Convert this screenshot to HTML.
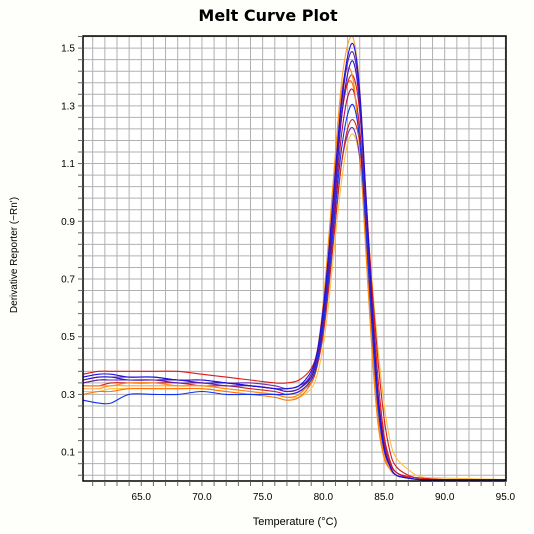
<!DOCTYPE html>
<html><head><meta charset="utf-8"><style>
body{margin:0;background:#fff;}
svg{display:block;font-family:"Liberation Sans",sans-serif;}
</style></head><body>
<svg id="chart" width="534" height="534" viewBox="0 0 534 534">
<rect x="0" y="0" width="534" height="534" fill="#fefefb"/>
<text x="268" y="21" text-anchor="middle" font-size="16" font-weight="bold" font-family="DejaVu Sans, Liberation Sans, sans-serif">Melt Curve Plot</text>
<rect x="83" y="36" width="423" height="445" fill="#fff"/>
<g id="grid"></g>
<g id="series"></g>
<rect x="83" y="36" width="423" height="445" fill="none" stroke="#000" stroke-width="1.5"/>
<g id="axes"></g>
<text x="295" y="525" text-anchor="middle" font-size="11">Temperature (°C)</text>
<text transform="translate(17,255) rotate(-90)" text-anchor="middle" font-size="10">Derivative Reporter (−Rn')</text>
</svg>
<script>
const temps=[60.2,61.5,62.5,64,66,68,70,72,74,76,77,78,79,79.5,80,80.5,81,81.5,82,82.5,83,83.5,84,84.5,85,85.5,86,87,88,90,95];
const xTicks=[65,70,75,80,85,90,95];
const yTicks=[0.1,0.3,0.5,0.7,0.9,1.1,1.3,1.5];
const colors=["#1a10e0","#2a18d0","#1030f0","#6020a0","#e01818","#d02020","#ff8a10","#ffa030","#ffc040","#b01050","#7030b0","#ff7000"];
const sA=[0.36,0.37,0.37,0.36,0.36,0.35,0.35,0.34,0.33,0.32,0.32,0.33,0.38,0.45,0.60,0.82,1.08,1.32,1.47,1.51,1.35,1.00,0.62,0.30,0.12,0.05,0.02,0.01,0.005,0.005,0.005];
const sB=[0.35,0.36,0.36,0.35,0.35,0.35,0.34,0.34,0.33,0.32,0.31,0.32,0.36,0.43,0.57,0.78,1.02,1.26,1.41,1.45,1.30,0.96,0.58,0.27,0.11,0.05,0.02,0.01,0.005,0.005,0.005];
const sC=[0.28,0.27,0.27,0.30,0.30,0.30,0.31,0.30,0.30,0.30,0.30,0.31,0.35,0.41,0.54,0.73,0.95,1.15,1.27,1.30,1.18,0.88,0.54,0.26,0.11,0.05,0.02,0.01,0.005,0.005,0.005];
const sD=[0.34,0.35,0.35,0.35,0.35,0.34,0.34,0.33,0.33,0.32,0.31,0.32,0.37,0.44,0.59,0.80,1.05,1.30,1.45,1.48,1.33,0.98,0.60,0.29,0.12,0.05,0.02,0.01,0.005,0.005,0.005];
const sE=[0.37,0.38,0.38,0.38,0.38,0.38,0.37,0.36,0.35,0.34,0.34,0.35,0.39,0.45,0.58,0.78,1.02,1.26,1.38,1.40,1.28,1.00,0.66,0.36,0.16,0.07,0.03,0.015,0.01,0.005,0.005];
const sF=[0.33,0.33,0.34,0.34,0.34,0.34,0.33,0.33,0.32,0.31,0.30,0.31,0.34,0.40,0.51,0.69,0.90,1.10,1.22,1.25,1.17,0.95,0.68,0.42,0.22,0.10,0.05,0.02,0.01,0.005,0.005];
const sG=[0.33,0.33,0.33,0.34,0.34,0.33,0.33,0.32,0.31,0.30,0.29,0.30,0.36,0.45,0.62,0.87,1.13,1.35,1.43,1.38,1.15,0.80,0.45,0.20,0.08,0.04,0.02,0.01,0.005,0.005,0.005];
const sH=[0.32,0.32,0.33,0.33,0.33,0.33,0.33,0.32,0.31,0.30,0.29,0.30,0.35,0.43,0.60,0.86,1.14,1.38,1.51,1.53,1.36,0.98,0.58,0.26,0.10,0.05,0.02,0.01,0.005,0.005,0.005];
const sI=[0.31,0.31,0.32,0.32,0.32,0.32,0.32,0.31,0.30,0.30,0.29,0.29,0.32,0.37,0.47,0.64,0.85,1.04,1.17,1.20,1.12,0.94,0.70,0.46,0.27,0.14,0.08,0.04,0.015,0.01,0.005];
const sJ=[0.34,0.35,0.35,0.35,0.35,0.35,0.34,0.34,0.33,0.32,0.31,0.32,0.36,0.42,0.55,0.75,0.98,1.20,1.33,1.35,1.22,0.93,0.60,0.31,0.14,0.06,0.03,0.01,0.005,0.005,0.005];
const sK=[0.35,0.36,0.36,0.36,0.36,0.35,0.35,0.34,0.34,0.33,0.32,0.33,0.36,0.41,0.52,0.70,0.91,1.10,1.20,1.22,1.12,0.86,0.56,0.28,0.12,0.05,0.02,0.01,0.005,0.005,0.005];
const sL=[0.30,0.31,0.31,0.32,0.32,0.32,0.32,0.31,0.30,0.29,0.28,0.29,0.34,0.42,0.58,0.82,1.08,1.30,1.38,1.36,1.17,0.84,0.50,0.23,0.09,0.04,0.02,0.01,0.005,0.005,0.005];
const seriesList=[sA,sB,sC,sD,sE,sF,sG,sH,sI,sJ,sK,sL];

const NS="http://www.w3.org/2000/svg";
const X0=83,X1=506,Y0=481,Y1=36,TMIN=60.2,TMAX=95.05,VMIN=0,VMAX=1.542;
function xs(t){return X0+(t-TMIN)/(TMAX-TMIN)*(X1-X0);}
function ys(v){return Y0-(v-VMIN)/(VMAX-VMIN)*(Y0-Y1);}
const grid=document.getElementById('grid'),axes=document.getElementById('axes'),sg=document.getElementById('series');
function mk(tag,attrs,parent){const e=document.createElementNS(NS,tag);for(const k in attrs)e.setAttribute(k,attrs[k]);parent.appendChild(e);return e;}
for(let t=61;t<=95;t++){
  const x=xs(t);
  const l=mk('line',{x1:x,x2:x,y1:Y1,y2:Y0,stroke:'#b0b0b0','stroke-width':1},grid);
  
  
  const tk=mk('line',{x1:x,x2:x,y1:Y0,y2:Y0+5,stroke:'#666','stroke-width':1},axes);
  
  
}
for(let i=-2;i<40;i++){
  const yy=ys(0.1+i*0.04);
  if(yy<Y1||yy>Y0)continue;
  const l=mk('line',{x1:X0,x2:X1,y1:yy,y2:yy,stroke:'#b0b0b0','stroke-width':1},grid);
  
  
  const tk=mk('line',{x1:X0-5,x2:X0,y1:yy,y2:yy,stroke:'#666','stroke-width':1},axes);
  
  
}
xTicks.forEach(t=>{
  const tx=mk('text',{x:xs(t),y:500,'text-anchor':'middle','font-size':10},axes);
  tx.textContent=t.toFixed(1);
  
  
});
yTicks.forEach(v=>{
  const tx=mk('text',{x:75,y:ys(v)+3.5,'text-anchor':'end','font-size':10},axes);
  tx.textContent=v.toFixed(1);
  
  
});
function pathFor(vals){
  const p=temps.map((t,i)=>[xs(t),ys(vals[i])]);
  let d='M'+p[0][0].toFixed(1)+','+p[0][1].toFixed(1);
  for(let i=0;i<p.length-1;i++){
    const p0=p[i-1]||p[i],p1=p[i],p2=p[i+1],p3=p[i+2]||p2;
    const c1=[p1[0]+(p2[0]-p0[0])/6,p1[1]+(p2[1]-p0[1])/6];
    const c2=[p2[0]-(p3[0]-p1[0])/6,p2[1]-(p3[1]-p1[1])/6];
    d+=' C'+c1[0].toFixed(1)+','+c1[1].toFixed(1)+' '+c2[0].toFixed(1)+','+c2[1].toFixed(1)+' '+p2[0].toFixed(1)+','+p2[1].toFixed(1);
  }
  return d;
}
const order=[8,10,5,11,4,9,7,6,1,3,2,0];
order.forEach(i=>{
  const pa=mk('path',{d:pathFor(seriesList[i]),fill:'none',stroke:colors[i],'stroke-width':1.1},sg);
  
  
});
</script>
</body></html>
